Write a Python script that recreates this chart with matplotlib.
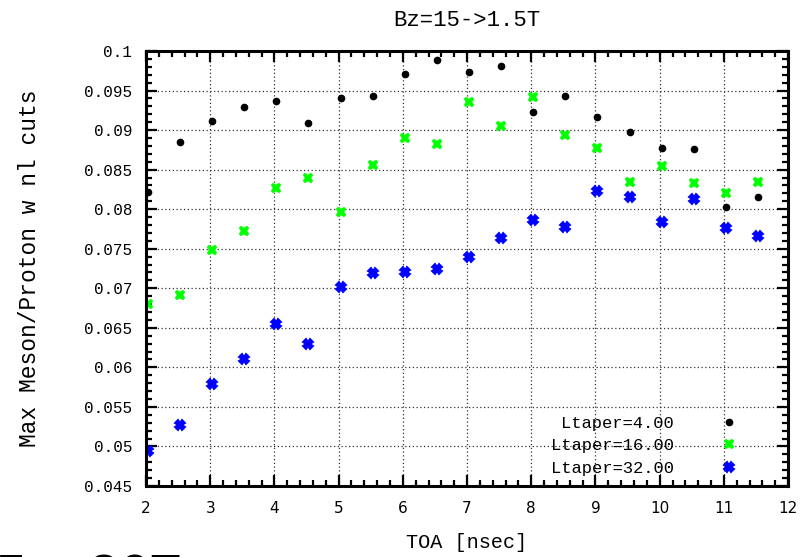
import matplotlib
matplotlib.use("Agg")
import matplotlib.pyplot as plt
from matplotlib.ticker import MultipleLocator, FixedLocator
import matplotlib.font_manager as fm

toa = [2.03, 2.53, 3.03, 3.53, 4.03, 4.53, 5.03, 5.53, 6.03, 6.53,
       7.03, 7.53, 8.03, 8.53, 9.03, 9.53, 10.03, 10.53, 11.03, 11.53]
lt4 = [0.0822, 0.0885, 0.0912, 0.0929, 0.0937, 0.0909, 0.0940, 0.0943, 0.0971, 0.0989,
       0.0973, 0.0981, 0.0923, 0.0943, 0.0916, 0.0897, 0.0878, 0.0876, 0.0803, 0.0816]
lt16 = [0.0680, 0.0692, 0.0748, 0.0773, 0.0827, 0.0839, 0.0797, 0.0856, 0.0890, 0.0883,
        0.0935, 0.0905, 0.0942, 0.0894, 0.0877, 0.0835, 0.0854, 0.0833, 0.0821, 0.0834]
lt32 = [0.0494, 0.0527, 0.0579, 0.0610, 0.0655, 0.0630, 0.0702, 0.0719, 0.0721, 0.0725,
        0.0740, 0.0763, 0.0786, 0.0777, 0.0823, 0.0815, 0.0784, 0.0813, 0.0776, 0.0766]
labels = ["Ltaper=4.00", "Ltaper=16.00", "Ltaper=32.00"]
xticks = [2, 3, 4, 5, 6, 7, 8, 9, 10, 11, 12]
yticks = [0.045, 0.05, 0.055, 0.06, 0.065, 0.07, 0.075, 0.08, 0.085, 0.09, 0.095, 0.1]
ytick_labels = ["0.045", "0.05", "0.055", "0.06", "0.065", "0.07", "0.075", "0.08",
                "0.085", "0.09", "0.095", "0.1"]

mono = "Liberation Mono"
names = {f.name for f in fm.fontManager.ttflist}
narrow = "Liberation Sans Narrow" if "Liberation Sans Narrow" in names else "DejaVu Sans"

fig = plt.figure(figsize=(8.05, 5.57), dpi=100)
ax = fig.add_axes([0.1814, 0.1275, 0.7976, 0.7809])

ax.plot(toa, lt4, linestyle="none", marker="o", markersize=4.5, color="black", label=labels[0])
ax.plot(toa, lt16, linestyle="none", marker="X", markersize=7.3, color="#00ff00",
        markeredgewidth=0.3, markeredgecolor="#00ff00", label=labels[1])
ax.plot(toa, lt32, linestyle="none", marker="X", markersize=7, color="#0000ff",
        markeredgewidth=1.4, markeredgecolor="#0000ff", label=labels[2])

ax.set_xlim(2, 12)
ax.set_ylim(0.045, 0.1)
ax.xaxis.set_major_locator(FixedLocator(xticks))
ax.yaxis.set_major_locator(FixedLocator(yticks))
ax.xaxis.set_minor_locator(MultipleLocator(0.2))
ax.yaxis.set_minor_locator(MultipleLocator(0.001))
ax.set_xticklabels([str(t) for t in xticks], fontfamily=narrow, fontsize=11)
ax.set_yticklabels(ytick_labels, fontfamily=mono, fontsize=11.5)
ax.tick_params(which="both", direction="in", top=True, right=True, width=1.6, color="black")
ax.tick_params(which="major", length=8)
ax.tick_params(which="minor", length=4)
ax.tick_params(axis="x", which="major", pad=11)
ax.tick_params(axis="y", which="major", pad=10)
for s in ax.spines.values():
    s.set_linewidth(2.2)
ax.grid(True, which="major", linestyle=(0, (1, 2)), color="#333333", linewidth=0.9)

ax.set_title("Bz=15->1.5T", fontfamily=mono, fontsize=16, pad=18)
ax.set_xlabel("TOA [nsec]", fontfamily=mono, fontsize=14.5, labelpad=12)
ax.set_ylabel("Max Meson/Proton w nl cuts", fontfamily=mono, fontsize=16.5, labelpad=31)

leg = ax.legend(loc="lower right", bbox_to_anchor=(0.9386, 0.007), borderaxespad=0,
                frameon=False, markerfirst=False,
                prop={"family": mono, "size": 12.3}, handletextpad=2.5,
                labelspacing=0.45, handlelength=1.5)
for t in leg.get_texts():
    t.set_ha("right")

# large caption that is mostly cut off at the bottom edge, as in the reference
fig.text(-0.043, -0.059, "15->30T", fontfamily=mono, fontsize=37, fontweight="bold",
         ha="left", va="baseline", color="black")

fig.savefig("out.png", dpi=100)
